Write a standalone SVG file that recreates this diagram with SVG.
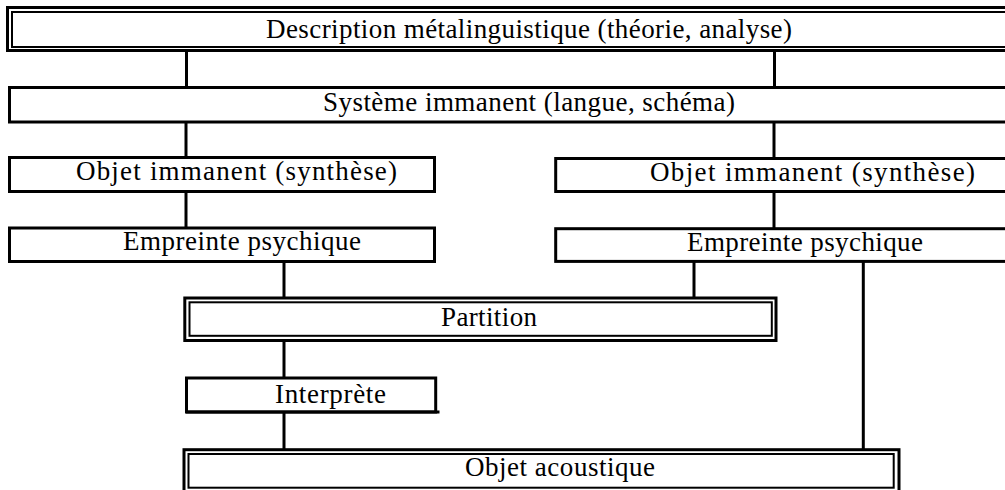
<svg xmlns="http://www.w3.org/2000/svg" width="1005" height="490" viewBox="0 0 1005 490">
<style>
.box{fill:#fff;stroke:#000;stroke-width:3}
.in{fill:none;stroke:#000;stroke-width:2}
.lbl{font-family:"Liberation Serif","Times New Roman",serif;font-size:27px;fill:#000}
.c{stroke:#000;stroke-width:3;fill:none}
</style>
<rect width="1005" height="490" fill="#fff"/>
<g id="connectors">
<line class="c" x1="186.5" y1="51" x2="186.5" y2="88"/>
<line class="c" x1="774.5" y1="51" x2="774.5" y2="88"/>
<line class="c" x1="186" y1="122" x2="186" y2="158"/>
<line class="c" x1="774" y1="122" x2="774" y2="159"/>
<line class="c" x1="186" y1="192" x2="186" y2="228"/>
<line class="c" x1="774" y1="192" x2="774" y2="229"/>
<line class="c" x1="284" y1="261" x2="284" y2="298"/>
<line class="c" x1="694" y1="261" x2="694" y2="298"/>
<line class="c" x1="863.3" y1="261" x2="863.3" y2="450"/>
<line class="c" x1="284" y1="340" x2="284" y2="378"/>
<line class="c" x1="284" y1="412" x2="284" y2="450"/>
</g>
<g id="n-description">
<rect class="box" x="7.5" y="7.5" width="1010" height="43"/>
<rect class="in" x="12" y="12" width="1000" height="35"/>
<text class="lbl" x="266" y="38" textLength="526" lengthAdjust="spacing">Description métalinguistique (théorie, analyse)</text>
</g>
<g id="n-systeme">
<rect class="box" x="9.5" y="87.5" width="1010" height="34.5"/>
<text class="lbl" x="323" y="111" textLength="412" lengthAdjust="spacing">Système immanent (langue, schéma)</text>
</g>
<g id="n-objet-g">
<rect class="box" x="9.5" y="157.5" width="425" height="34"/>
<text class="lbl" x="76" y="180" textLength="321" lengthAdjust="spacing">Objet immanent (synthèse)</text>
</g>
<g id="n-objet-d">
<rect class="box" x="555.7" y="158.5" width="460" height="33"/>
<text class="lbl" x="650" y="181" textLength="325" lengthAdjust="spacing">Objet immanent (synthèse)</text>
</g>
<g id="n-empreinte-g">
<rect class="box" x="9.5" y="228" width="425" height="33.5"/>
<text class="lbl" x="123" y="250" textLength="238" lengthAdjust="spacing">Empreinte psychique</text>
</g>
<g id="n-empreinte-d">
<rect class="box" x="555.7" y="228.7" width="460" height="32.7"/>
<text class="lbl" x="687" y="251" textLength="236" lengthAdjust="spacing">Empreinte psychique</text>
</g>
<g id="n-partition">
<rect class="box" x="184.8" y="298" width="591.2" height="42.5"/>
<rect class="in" x="189.5" y="302.3" width="582.3" height="33.5"/>
<text class="lbl" x="441" y="326" textLength="96" lengthAdjust="spacing">Partition</text>
</g>
<g id="n-interprete">
<rect class="box" x="186.5" y="378" width="249.2" height="34"/>
<line class="c" x1="186" y1="412" x2="439.5" y2="412"/>
<text class="lbl" x="275" y="403" textLength="111" lengthAdjust="spacing">Interprète</text>
</g>
<g id="n-objet-acoustique">
<rect class="box" x="184" y="449.7" width="715" height="45"/>
<rect class="in" x="188.5" y="454" width="705.2" height="33.7"/>
<text class="lbl" x="465" y="476" textLength="190" lengthAdjust="spacing">Objet acoustique</text>
</g>
</svg>
